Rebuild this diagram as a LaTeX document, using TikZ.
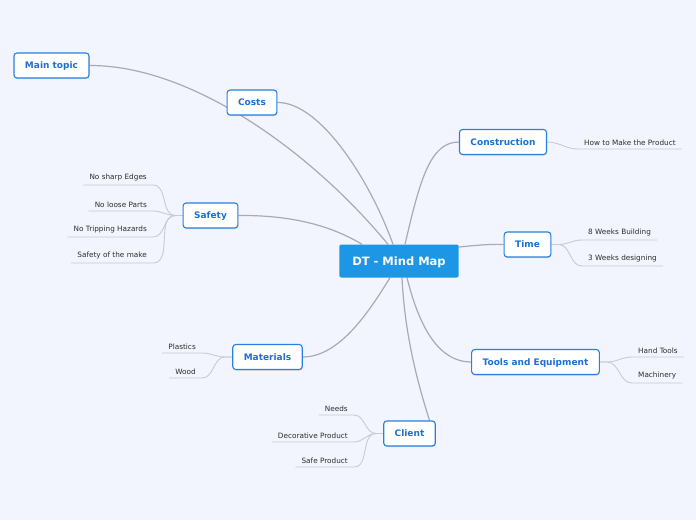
\documentclass[tikz,border=0pt]{standalone}
\usepackage{fontspec}
\setmainfont{DejaVu Sans}
\usetikzlibrary{shadows,backgrounds}
\definecolor{mapbg}{RGB}{242,245,253}
\definecolor{mapblue}{RGB}{29,150,230}
\definecolor{topicedge}{RGB}{40,128,224}
\definecolor{topictext}{RGB}{30,112,210}
\definecolor{branchgray}{RGB}{168,170,180}
\definecolor{twiggray}{RGB}{200,202,212}
\definecolor{leaftext}{RGB}{45,45,45}

\begin{document}
\begin{tikzpicture}[x=1pt,y=-1pt,
  central/.style={fill=mapblue, text=white, rounded corners=2pt, font=\bfseries\fontsize{11.5}{13}\selectfont, minimum height=33pt, inner xsep=13pt, text height=8.4pt, text depth=0pt},
  topic/.style={draw=topicedge, line width=1.1pt, fill=white, rounded corners=3pt, text=topictext, font=\bfseries\fontsize{9}{10}\selectfont, minimum height=25pt, inner xsep=11pt, text height=6.6pt, text depth=0pt, drop shadow={shadow xshift=0.5pt, shadow yshift=-1pt, opacity=0.25}},
  leaf/.style={text=leaftext, font=\fontsize{7.3}{8}\selectfont, inner xsep=6pt, inner ysep=3.5pt},
  branch/.style={draw=branchgray, line width=1.2pt},
  twig/.style={draw=twiggray, line width=0.9pt}]
 \useasboundingbox (0,0) rectangle (696,520);

 \node[central] (dt) at (399,261) {DT - Mind Map};
 \node[topic] (maintopic) at (51.5,65.5) {Main topic};
 \node[topic] (costs) at (252,102.5) {Costs};
 \node[topic] (construction) at (503,142) {Construction};
 \node[topic] (safety) at (210.5,215.5) {Safety};
 \node[topic] (time) at (527.5,244.5) {Time};
 \node[topic] (materials) at (267.5,357) {Materials};
 \node[topic] (tools) at (535.5,362) {Tools and Equipment};
 \node[topic] (client) at (409.5,433.5) {Client};

 % leaves on the left
 \foreach \nm/\xx/\yy/\txt in {sf1/153/185/{No sharp Edges}, sf2/153/211/{No loose Parts},
     sf3/153/237/{No Tripping Hazards}, sf4/153/263/{Safety of the make}}{
   \node[leaf, anchor=south east] (\nm) at (\xx,\yy) {\txt};
 }
 \foreach \nm/\xx/\yy/\txt in {ma1/202/353/{Plastics}, ma2/202/378/{Wood}}{
   \node[leaf, anchor=south east] (\nm) at (\xx,\yy) {\txt};
 }
 \foreach \nm/\xx/\yy/\txt in {cl1/354/415/{Needs}, cl2/354/442/{Decorative Product}, cl3/354/467/{Safe Product}}{
   \node[leaf, anchor=south east] (\nm) at (\xx,\yy) {\txt};
 }
 % leaves on the right
 \node[leaf, anchor=south west] (co1) at (578,149) {How to Make the Product};
 \node[leaf, anchor=south west] (ti1) at (582,240) {8 Weeks Building};
 \node[leaf, anchor=south west] (ti2) at (582,266) {3 Weeks designing};
 \node[leaf, anchor=south west] (to1) at (632,357) {Hand Tools};
 \node[leaf, anchor=south west] (to2) at (632,383) {Machinery};

 \begin{scope}[on background layer]
   \fill[mapbg] (0,0) rectangle (696,520);
   % main branches
   \draw[branch] (maintopic.east) .. controls (190,65) and (310,150) .. ([xshift=-11pt]dt.north);
   \draw[branch] (costs.east) .. controls (320,102) and (370,180) .. ([xshift=-6pt]dt.north);
   \draw[branch] ([xshift=6pt]dt.north) .. controls (420,180) and (430,142) .. (construction.west);
   \draw[branch] (safety.east) .. controls (290,215) and (330,225) .. ([xshift=-37pt]dt.north);
   \draw[branch] ([yshift=14pt]dt.east) .. controls (480,245) and (490,244) .. (time.west);
   \draw[branch] (materials.east) .. controls (340,357) and (370,310) .. ([xshift=-9pt]dt.south);
   \draw[branch] ([xshift=8pt]dt.south) .. controls (420,330) and (440,362) .. (tools.west);
   \draw[branch] ([xshift=3pt]dt.south) .. controls (405,340) and (420,390) .. ([xshift=20pt]client.north);
   % twigs
   \foreach \nm in {sf1,sf2,sf3,sf4}
     \draw[twig] (\nm.south west) -- (\nm.south east) to[out=0,in=180] ([xshift=-7pt]safety.west) -- (safety.west);
   \foreach \nm in {ma1,ma2}
     \draw[twig] (\nm.south west) -- (\nm.south east) to[out=0,in=180] ([xshift=-7pt]materials.west) -- (materials.west);
   \foreach \nm in {cl1,cl2,cl3}
     \draw[twig] (\nm.south west) -- (\nm.south east) to[out=0,in=180] ([xshift=-7pt]client.west) -- (client.west);
   \draw[twig] (construction.east) to[out=0,in=180] (co1.south west) -- (co1.south east);
   \foreach \nm in {ti1,ti2}
     \draw[twig] (time.east) -- ++(7,0) to[out=0,in=180] (\nm.south west) -- (\nm.south east);
   \foreach \nm in {to1,to2}
     \draw[twig] (tools.east) -- ++(7,0) to[out=0,in=180] (\nm.south west) -- (\nm.south east);
 \end{scope}
\end{tikzpicture}
\end{document}
